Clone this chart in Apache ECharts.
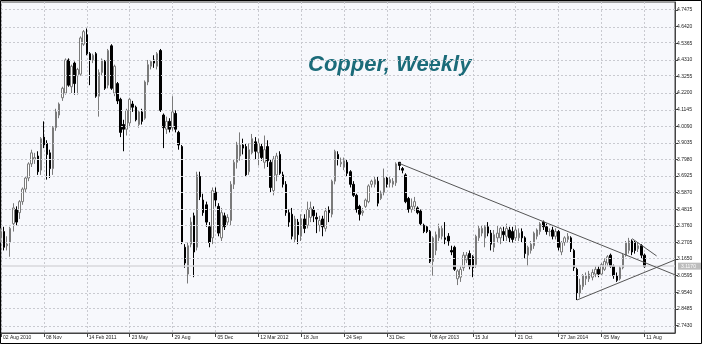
<!DOCTYPE html>
<html>
<head>
<meta charset="utf-8">
<script src="https://cdn.jsdelivr.net/npm/echarts@6/dist/echarts.min.js"></script>
<style>
html, body { margin: 0; padding: 0; background: #fff; }
#chart { width: 702px; height: 344px; }
</style>
</head>
<body>
<div id="chart"></div>
<script>
// weekly bars, [open, close, low, high], starting week of 02 Aug 2010
var weekly = [
  [3.30, 3.34, 3.27, 3.36], [3.34, 3.24, 3.22, 3.37], [3.25, 3.26, 3.22, 3.31], [3.27, 3.36, 3.18, 3.37],
  [3.39, 3.49, 3.34, 3.52], [3.48, 3.40, 3.38, 3.50], [3.46, 3.53, 3.42, 3.54], [3.53, 3.61, 3.51, 3.62],
  [3.61, 3.68, 3.59, 3.69], [3.68, 3.77, 3.66, 3.78], [3.77, 3.84, 3.75, 3.86], [3.80, 3.81, 3.77, 3.84],
  [3.82, 3.72, 3.70, 3.85], [3.73, 3.93, 3.70, 3.94], [3.94, 3.89, 3.87, 4.04], [3.90, 3.83, 3.67, 3.92],
  [3.84, 3.74, 3.68, 3.86], [3.74, 4.00, 3.70, 4.01], [4.00, 4.10, 3.98, 4.12], [4.08, 4.15, 4.06, 4.16],
  [4.19, 4.25, 4.17, 4.26], [4.22, 4.43, 4.21, 4.44], [4.43, 4.27, 4.26, 4.44], [4.26, 4.39, 4.22, 4.40],
  [4.41, 4.28, 4.21, 4.42], [4.33, 4.37, 4.21, 4.38], [4.34, 4.57, 4.33, 4.58], [4.53, 4.61, 4.52, 4.62],
  [4.59, 4.47, 4.46, 4.63], [4.47, 4.43, 4.27, 4.48], [4.43, 4.46, 4.41, 4.47], [4.47, 4.20, 4.19, 4.48],
  [4.20, 4.35, 4.07, 4.37], [4.35, 4.43, 4.33, 4.44], [4.42, 4.25, 4.24, 4.43], [4.27, 4.49, 4.25, 4.50],
  [4.52, 4.25, 4.24, 4.53], [4.22, 4.39, 4.20, 4.40], [4.28, 4.17, 4.15, 4.29], [4.18, 3.97, 3.94, 4.19],
  [4.02, 3.99, 3.85, 4.05], [3.99, 4.11, 3.95, 4.12], [4.03, 4.18, 4.01, 4.19], [4.15, 4.13, 4.10, 4.17],
  [4.13, 4.05, 4.04, 4.14], [4.02, 4.10, 4.00, 4.11], [4.10, 4.04, 4.02, 4.12], [4.06, 4.29, 4.05, 4.30],
  [4.29, 4.40, 4.27, 4.43], [4.39, 4.42, 4.37, 4.43], [4.43, 4.41, 4.38, 4.46], [4.39, 4.47, 4.37, 4.48],
  [4.49, 4.11, 4.10, 4.50], [4.08, 4.00, 3.87, 4.09], [3.99, 4.04, 3.96, 4.07], [4.04, 3.99, 3.97, 4.06],
  [4.00, 4.10, 3.98, 4.20], [4.09, 3.99, 3.97, 4.11], [3.97, 3.89, 3.86, 3.98], [3.88, 3.27, 3.26, 3.89],
  [3.24, 3.14, 3.11, 3.26], [3.07, 3.25, 3.01, 3.27], [3.26, 3.40, 3.24, 3.43], [3.44, 3.21, 3.05, 3.46],
  [3.24, 3.70, 3.22, 3.72], [3.69, 3.56, 3.54, 3.72], [3.54, 3.46, 3.44, 3.58], [3.51, 3.40, 3.37, 3.53],
  [3.37, 3.27, 3.24, 3.40], [3.30, 3.60, 3.26, 3.62], [3.59, 3.54, 3.50, 3.62], [3.50, 3.33, 3.31, 3.52],
  [3.30, 3.46, 3.28, 3.49], [3.44, 3.37, 3.35, 3.46], [3.40, 3.43, 3.38, 3.45], [3.41, 3.64, 3.38, 3.66],
  [3.64, 3.78, 3.61, 3.80], [3.78, 3.89, 3.74, 3.91], [3.82, 3.89, 3.79, 3.97], [3.89, 3.87, 3.83, 3.93],
  [3.88, 3.70, 3.69, 3.90], [3.72, 3.86, 3.70, 3.90], [3.84, 3.93, 3.83, 3.96], [3.91, 3.85, 3.80, 3.94],
  [3.84, 3.90, 3.76, 3.93], [3.88, 3.81, 3.79, 3.90], [3.78, 3.86, 3.74, 3.95], [3.88, 3.79, 3.75, 3.92],
  [3.78, 3.62, 3.59, 3.80], [3.60, 3.80, 3.57, 3.82], [3.70, 3.82, 3.66, 3.84], [3.83, 3.71, 3.70, 3.85],
  [3.70, 3.64, 3.62, 3.72], [3.64, 3.46, 3.44, 3.66], [3.46, 3.40, 3.37, 3.48], [3.45, 3.31, 3.29, 3.49],
  [3.29, 3.42, 3.27, 3.44], [3.40, 3.32, 3.26, 3.42], [3.31, 3.42, 3.28, 3.45], [3.42, 3.36, 3.33, 3.45],
  [3.38, 3.48, 3.36, 3.53], [3.43, 3.49, 3.40, 3.53], [3.48, 3.44, 3.40, 3.50], [3.43, 3.42, 3.33, 3.46],
  [3.38, 3.41, 3.34, 3.44], [3.42, 3.37, 3.31, 3.44], [3.36, 3.47, 3.34, 3.49], [3.48, 3.46, 3.40, 3.50],
  [3.45, 3.66, 3.43, 3.67], [3.66, 3.85, 3.64, 3.86], [3.83, 3.80, 3.76, 3.85], [3.77, 3.78, 3.75, 3.81],
  [3.75, 3.79, 3.73, 3.81], [3.78, 3.71, 3.69, 3.80], [3.72, 3.64, 3.62, 3.73], [3.64, 3.57, 3.56, 3.66],
  [3.57, 3.48, 3.46, 3.58], [3.50, 3.45, 3.41, 3.51], [3.46, 3.47, 3.44, 3.49], [3.50, 3.54, 3.49, 3.55],
  [3.53, 3.63, 3.52, 3.64], [3.64, 3.66, 3.62, 3.67], [3.64, 3.67, 3.62, 3.69], [3.66, 3.52, 3.50, 3.69],
  [3.55, 3.58, 3.54, 3.60], [3.59, 3.68, 3.57, 3.74], [3.68, 3.64, 3.62, 3.69], [3.65, 3.67, 3.62, 3.69],
  [3.64, 3.66, 3.62, 3.68], [3.65, 3.77, 3.63, 3.78], [3.78, 3.76, 3.73, 3.78], [3.74, 3.73, 3.71, 3.75],
  [3.70, 3.53, 3.52, 3.71], [3.55, 3.48, 3.46, 3.56], [3.48, 3.50, 3.46, 3.55], [3.50, 3.53, 3.47, 3.56],
  [3.49, 3.46, 3.45, 3.50], [3.47, 3.39, 3.38, 3.48], [3.38, 3.34, 3.33, 3.39], [3.37, 3.34, 3.33, 3.38],
  [3.34, 3.15, 3.14, 3.35], [3.15, 3.30, 3.06, 3.31], [3.22, 3.32, 3.19, 3.34], [3.30, 3.36, 3.28, 3.39],
  [3.31, 3.36, 3.29, 3.38], [3.30, 3.29, 3.26, 3.40], [3.31, 3.28, 3.25, 3.33], [3.22, 3.21, 3.19, 3.25],
  [3.24, 3.10, 3.09, 3.25], [3.04, 3.09, 3.00, 3.10], [3.05, 3.10, 3.02, 3.12], [3.11, 3.19, 3.09, 3.21],
  [3.16, 3.19, 3.14, 3.21], [3.20, 3.12, 3.10, 3.22], [3.18, 3.11, 3.05, 3.19], [3.13, 3.31, 3.11, 3.32],
  [3.30, 3.36, 3.28, 3.38], [3.33, 3.36, 3.31, 3.38], [3.30, 3.37, 3.24, 3.38], [3.37, 3.33, 3.31, 3.40],
  [3.33, 3.26, 3.22, 3.35], [3.24, 3.32, 3.21, 3.35], [3.30, 3.33, 3.27, 3.38], [3.30, 3.36, 3.26, 3.37],
  [3.34, 3.32, 3.28, 3.37], [3.31, 3.36, 3.28, 3.39], [3.35, 3.30, 3.27, 3.37], [3.34, 3.29, 3.27, 3.37],
  [3.30, 3.35, 3.28, 3.38], [3.30, 3.33, 3.28, 3.36], [3.34, 3.30, 3.27, 3.36], [3.30, 3.20, 3.17, 3.31],
  [3.19, 3.24, 3.12, 3.25], [3.22, 3.26, 3.20, 3.28], [3.25, 3.33, 3.23, 3.34], [3.31, 3.35, 3.29, 3.36],
  [3.34, 3.39, 3.32, 3.40], [3.40, 3.37, 3.35, 3.41], [3.37, 3.34, 3.32, 3.39], [3.34, 3.34, 3.31, 3.36],
  [3.35, 3.31, 3.29, 3.37], [3.31, 3.34, 3.29, 3.36], [3.34, 3.24, 3.22, 3.35], [3.21, 3.27, 3.19, 3.28],
  [3.27, 3.30, 3.25, 3.31], [3.29, 3.31, 3.27, 3.33], [3.30, 3.23, 3.21, 3.31], [3.22, 3.11, 3.09, 3.23],
  [3.10, 2.95, 2.905, 3.11], [2.95, 3.00, 2.92, 3.04], [2.99, 3.06, 2.97, 3.07], [3.04, 3.06, 3.00, 3.08],
  [3.04, 3.07, 3.02, 3.09], [3.05, 3.08, 3.03, 3.10], [3.07, 3.10, 3.05, 3.12], [3.10, 3.07, 3.05, 3.12],
  [3.07, 3.13, 3.06, 3.14], [3.10, 3.15, 3.09, 3.17], [3.14, 3.18, 3.12, 3.19], [3.19, 3.12, 3.11, 3.20],
  [3.12, 3.06, 3.04, 3.13], [3.06, 3.03, 3.02, 3.08], [3.04, 3.11, 3.03, 3.12], [3.11, 3.19, 3.10, 3.20],
  [3.19, 3.27, 3.18, 3.28], [3.22, 3.28, 3.20, 3.30], [3.28, 3.21, 3.19, 3.29], [3.27, 3.22, 3.20, 3.28],
  [3.23, 3.25, 3.21, 3.27], [3.25, 3.19, 3.17, 3.26], [3.19, 3.117, 3.11, 3.20]
];

// x axis labels, one every 14 weeks
var dateLabels = ['02 Aug 2010', '08 Nov', '14 Feb 2011', '23 May', '29 Aug', '05 Dec', '12 Mar 2012',
  '18 Jun', '24 Sep', '31 Dec', '08 Apr 2013', '15 Jul', '21 Oct', '27 Jan 2014', '05 May', '11 Aug'];
var labelEvery = 14;

// price scale and its tick labels
var priceMin = 2.6955, priceMax = 4.7983;
var priceTicks = [2.7430, 2.8485, 2.9540, 3.0595, 3.1650, 3.2705, 3.3760, 3.4815, 3.5870, 3.6925,
  3.7980, 3.9035, 4.0090, 4.1145, 4.2200, 4.3255, 4.4310, 4.5365, 4.6420, 4.7475];
var lastPrice = 3.117;

// trend lines [weekIndex, price]
var upperTrend = [[130, 3.773], [220, 3.065]];
var lowerTrend = [[188, 2.905], [220, 3.160]];
var shortTrend = [[205.5, 3.295], [214, 3.185]];

// week categories (empty slots after the last bar leave room on the right)
var weeks = [];
var d0 = new Date(Date.UTC(2010, 7, 2));
for (var i = 0; i < 221; i++) {
  weeks.push(new Date(d0.getTime() + i * 7 * 86400000).toISOString().slice(0, 10));
}

var dom = document.getElementById('chart');
var myChart = echarts.init(dom, null, { renderer: 'canvas' });

function line(pts) {
  return [{ coord: [pts[0][0], pts[0][1]] }, { coord: [pts[1][0], pts[1][1]] }];
}

var option = {
  animation: false,
  backgroundColor: '#fff',
  grid: {
    left: -2, right: 27, top: 2, bottom: 11,
    show: true, backgroundColor: '#f7f8fc', borderColor: '#444', borderWidth: 1
  },
  xAxis: {
    type: 'category',
    data: weeks,
    boundaryGap: false,
    axisLine: { lineStyle: { color: '#444' } },
    axisTick: { interval: function (i) { return i % labelEvery === 0; }, length: 4, lineStyle: { color: '#444' } },
    axisLabel: {
      interval: function (i) { return i % labelEvery === 0; },
      formatter: function (v, i) { return dateLabels[i / labelEvery] || ''; },
      align: 'left', padding: [0, 0, 0, 2], margin: 2,
      fontSize: 5, color: '#222', fontFamily: 'Liberation Sans'
    },
    splitLine: {
      show: true,
      interval: function (i) { return i % labelEvery === 0; },
      lineStyle: { color: '#c9cad0', type: [2, 2] }
    }
  },
  yAxis: {
    type: 'value',
    position: 'right',
    min: priceMin, max: priceMax,
    axisLine: { show: true, lineStyle: { color: '#444' } },
    axisTick: { show: true, length: 3, customValues: priceTicks, lineStyle: { color: '#444' } },
    axisLabel: {
      customValues: priceTicks,
      margin: 2, fontSize: 5, color: '#222', fontFamily: 'Liberation Sans',
      formatter: function (v) { return v.toFixed(4); }
    },
    splitLine: { show: false }
  },
  series: [
    {
      // horizontal dotted grid at the price ticks, kept behind the bars
      type: 'line',
      data: [],
      z: 1,
      markLine: {
        silent: true,
        symbol: ['none', 'none'],
        label: { show: false },
        lineStyle: { color: '#c9cad0', width: 1, type: [2, 2] },
        data: priceTicks.map(function (v) { return { yAxis: v }; })
      }
    },
    {
      type: 'candlestick',
      data: weekly,
      z: 2,
      barWidth: 2,
      itemStyle: {
        color: '#ffffff', color0: '#000000',
        borderColor: '#7a7a7a', borderColor0: '#000000', borderWidth: 1
      },
      markLine: {
        silent: true,
        symbol: ['none', 'none'],
        data: [
          {
            yAxis: lastPrice,
            lineStyle: { color: '#d9d9dc', width: 1.5, type: 'solid' },
            label: {
              show: true, position: 'end', formatter: lastPrice.toFixed(4),
              fontSize: 5, color: '#fff', backgroundColor: '#bdbdbd',
              padding: [1, 5, 1, 3], distance: 3
            }
          },
          line(upperTrend),
          line(lowerTrend),
          line(shortTrend)
        ],
        lineStyle: { color: '#555', width: 1, type: 'solid' },
        label: { show: false }
      }
    }
  ],
  graphic: [
    {
      type: 'text', left: 308, top: 54,
      style: {
        text: 'Copper, Weekly', fill: '#1b6b79',
        font: 'italic bold 22px "Liberation Sans"'
      }
    },
    {
      type: 'rect', shape: { x: 0.5, y: 0.5, width: 701, height: 343 },
      style: { fill: 'none', stroke: '#000', lineWidth: 1 }
    }
  ]
};

if (option && typeof option === 'object') {
  myChart.setOption(option, true);
}
</script>
</body>
</html>
